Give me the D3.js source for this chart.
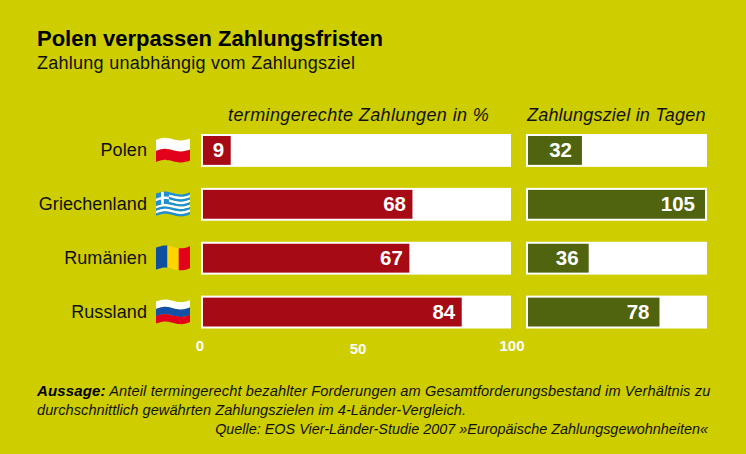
<!DOCTYPE html>
<html><head><meta charset="utf-8">
<script src="https://cdn.jsdelivr.net/npm/d3@7/dist/d3.min.js"></script>
<style>html,body{margin:0;padding:0;background:#cdcd00}svg{display:block}text{font-family:"Liberation Sans",Arial,sans-serif}</style>
</head><body><svg id="c" width="746" height="454"></svg>
<script>
const countries=["Polen","Griechenland","Rumänien","Russland"];
const onTime=[9,68,67,84];
const terms=[32,105,36,78];
const pctTicks=[0,50,100];
const flagBands=[["#ffffff","#e2001a"],["#1f8fd0","#ffffff","#1f8fd0","#ffffff","#1f8fd0","#ffffff","#1f8fd0","#ffffff","#1f8fd0"],[],["#ffffff","#1450a8","#e2001a"]];
const romania=["#0f4fa0","#ffd500","#e2001a"];
const title="Polen verpassen Zahlungsfristen";
const subtitle="Zahlung unabhängig vom Zahlungsziel";
const head1="termingerechte Zahlungen in %";
const head2="Zahlungsziel in Tagen";
const note1="Anteil termingerecht bezahlter Forderungen am Gesamtforderungsbestand im Verhältnis zu";
const note2="durchschnittlich gewährten Zahlungszielen im 4-Länder-Vergleich.";
const source="Quelle: EOS Vier-Länder-Studie 2007 »Europäische Zahlungsgewohnheiten«";

const svg=d3.select("#c");
const BG="#cdcd00",RED="#a60a14",GREEN="#506410";
svg.append("rect").attr("width",746).attr("height",454).attr("fill",BG);
const T=(x,y,s,o={})=>svg.append("text").attr("x",x).attr("y",y).text(s)
  .attr("font-size",o.size||15).attr("font-weight",o.weight||"normal").attr("font-style",o.style||"normal")
  .attr("letter-spacing",o.ls||0)
  .attr("fill",o.fill||"#111").attr("text-anchor",o.anchor||"start");
T(37,46,title,{size:22,weight:"bold",fill:"#000"});
T(37,69,subtitle,{size:18,ls:.26});
T(228,121,head1,{size:18,style:"italic",ls:.38});
T(527,121,head2,{size:18,style:"italic",ls:.2});

const y=d3.scaleBand().domain(countries).range([134,328.5]).paddingInner(0.39).paddingOuter(0);
const xP=d3.scaleLinear().domain([0,100]).range([203,511]);
const xD=d3.scaleLinear().domain([0,105]).range([528,705]);
function panel(x,vals,color,x0,x1,inset){
  const g=svg.append("g");
  const rows=g.selectAll("g").data(countries).join("g").attr("transform",d=>`translate(0,${y(d)})`);
  rows.append("rect").attr("x",x0).attr("width",x1-x0).attr("height",y.bandwidth()).attr("fill","#fff");
  rows.append("rect").attr("x",x.range()[0]).attr("y",2).attr("height",y.bandwidth()-4)
    .attr("width",(d,i)=>x(vals[i])-x.range()[0]).attr("fill",color);
  rows.append("text").attr("x",(d,i)=>x(vals[i])-inset).attr("y",y.bandwidth()/2+7)
    .attr("text-anchor","end").attr("font-size",20.5).attr("font-weight","bold").attr("fill","#fff")
    .text((d,i)=>vals[i]);
}
panel(xP,onTime,RED,201,511,6.5);
panel(xD,terms,GREEN,526,707,10);

// row labels
countries.forEach(c=>T(147,y(c)+y.bandwidth()/2+6,c,{size:18,ls:.1,anchor:"end"}));

// axis labels
svg.append("g").selectAll("text").data(pctTicks).join("text")
  .attr("x",d=>xP(d)+(d===0?-3:d===100?1:1)).attr("y",d=>d===50?354:351)
  .attr("text-anchor","middle").attr("font-size",15).attr("font-weight","bold").attr("fill","#fff").text(d=>d);

// waving flags
const FW=34,FH=22,FX=156;
const wave=t=>-1.8*Math.sin(t*Math.PI*2)-t*1.5;
const ts=d3.range(0,1.001,0.1);
const line=d3.line().curve(d3.curveBasis);
function band(top,a,b,c,d){
  const tt=ts.map(t=>a+(b-a)*t);
  const up=tt.map(t=>[FX+t*FW,top+c*FH+wave(t)]);
  const lo=tt.map(t=>[FX+t*FW,top+d*FH+wave(t)]).reverse();
  return line(up)+"L"+line(lo).slice(1)+"Z";
}
countries.forEach((c,i)=>{
  const top=y(c)+y.bandwidth()/2-10.5;
  const g=svg.append("g");
  if(i===2){
    romania.forEach((col,k)=>g.append("path").attr("d",band(top,k/3,(k+1)/3+(k<2?.01:0),0,1)).attr("fill",col));
  } else {
    const n=flagBands[i].length;
    flagBands[i].forEach((col,k)=>g.append("path").attr("d",band(top,0,1,k/n,(k+1)/n+(k<n-1?.01:0))).attr("fill",col));
    if(i===1){
      g.append("path").attr("d",band(top,0,.38,0,5/9)).attr("fill","#1f8fd0");
      g.append("path").attr("d",band(top,.15,.23,0,5/9)).attr("fill","#fff");
      g.append("path").attr("d",band(top,0,.38,2/9,3/9)).attr("fill","#fff");
    }
  }
});

// footer
const t1=T(37,396,"",{size:14.6,style:"italic",ls:.13});
t1.append("tspan").attr("font-weight","bold").attr("fill","#000").attr("font-size",15).text("Aussage:");
t1.append("tspan").text(" "+note1);
T(37,415,note2,{size:14.6,style:"italic",ls:.05});
T(708,434,source,{size:14.4,style:"italic",anchor:"end"});
</script></body></html>
